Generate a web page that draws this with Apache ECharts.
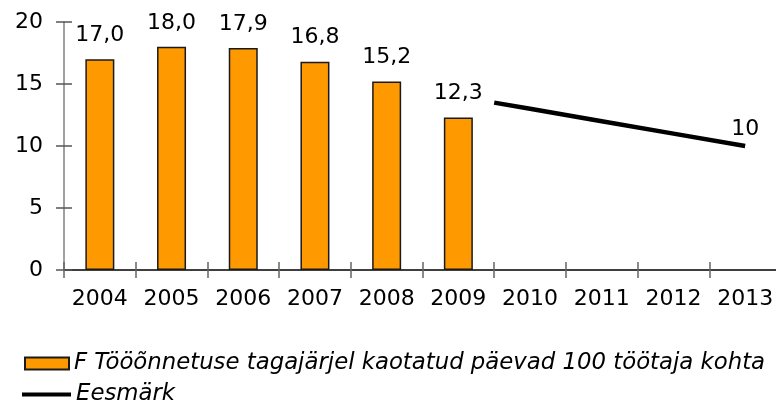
<!DOCTYPE html>
<html>
<head>
<meta charset="utf-8">
<script src="https://cdn.jsdelivr.net/npm/echarts@6/dist/echarts.min.js"></script>
<style>
  html, body { margin: 0; padding: 0; background: #fff; overflow: hidden; }
  #main { width: 781px; height: 403px; }
</style>
</head>
<body>
<div id="main"></div>
<script>
let years = ['2004', '2005', '2006', '2007', '2008', '2009', '2010', '2011', '2012', '2013'];
let barValues = [17.0, 18.0, 17.9, 16.8, 15.2, 12.3];
let lineYears = [2009.5, 2010, 2011, 2012, 2013];
let lineValues = [13.5, 13.0, 12.0, 11.0, 10.0];
let barName = 'F Tööõnnetuse tagajärjel kaotatud päevad 100 töötaja kohta';
let lineName = 'Eesmärk';

let myChart = echarts.init(document.getElementById('main'));

let font = 'DejaVu Sans';
let legendText = {
    fontFamily: font,
    fontSize: 22.8,
    fontStyle: 'italic',
    color: '#000'
};

let option = {
    animation: false,
    grid: {
        left: 64,
        top: 22,
        right: 0,
        height: 248
    },
    legend: [
        {
            left: 24,
            top: 352,
            padding: 0,
            itemWidth: 44,
            itemHeight: 12,
            data: [{ name: barName, icon: 'rect' }],
            textStyle: legendText
        },
        {
            left: 22,
            top: 383,
            padding: 0,
            itemWidth: 49,
            itemHeight: 4,
            data: [{ name: lineName, icon: 'rect' }],
            textStyle: legendText
        }
    ],
    xAxis: [
        {
            type: 'category',
            data: years,
            axisLine: { lineStyle: { color: '#000', width: 1.5 } },
            axisTick: { show: true, interval: 0, length: 8, lineStyle: { color: '#666', width: 1.5 } },
            axisLabel: { interval: 0, fontFamily: font, fontSize: 22, color: '#000', margin: 18 }
        },
        {
            type: 'category',
            data: years,
            position: 'bottom',
            axisLine: { show: false },
            axisTick: { show: true, interval: 0, inside: true, length: 8, lineStyle: { color: '#666', width: 1.5 } },
            axisLabel: { show: false }
        },
        {
            type: 'value',
            min: 2003.5,
            max: 2013.5,
            show: false
        }
    ],
    yAxis: [
        {
            type: 'value',
            min: 0,
            max: 20,
            interval: 5,
            axisLine: { show: true, lineStyle: { color: '#808080', width: 1.5 } },
            axisTick: { show: true, length: 8, lineStyle: { color: '#555', width: 1.5 } },
            splitLine: { show: false },
            axisLabel: { fontFamily: font, fontSize: 22, color: '#000', margin: 21 }
        },
        {
            type: 'value',
            min: 0,
            max: 20,
            interval: 5,
            position: 'left',
            axisLine: { show: false },
            axisTick: { show: true, inside: true, length: 8, lineStyle: { color: '#555', width: 1.5 } },
            splitLine: { show: false },
            axisLabel: { show: false }
        }
    ],
    series: [
        {
            name: barName,
            type: 'bar',
            xAxisIndex: 0,
            yAxisIndex: 0,
            barWidth: 29,
            data: barValues,
            itemStyle: {
                color: '#FF9900',
                borderColor: '#1a1a1a',
                borderWidth: 1.5
            },
            label: {
                show: true,
                position: 'top',
                distance: 13,
                fontFamily: font,
                fontSize: 22,
                color: '#000',
                formatter: function (p) {
                    return p.value.toFixed(1).replace('.', ',');
                }
            }
        },
        {
            name: lineName,
            type: 'line',
            xAxisIndex: 2,
            yAxisIndex: 0,
            symbol: 'circle',
            symbolSize: 0.1,
            showSymbol: true,
            data: lineYears.map(function (y, i) { return [y, lineValues[i]]; }),
            lineStyle: { color: '#000', width: 4.5 },
            itemStyle: { color: '#000' },
            label: {
                show: true,
                position: 'top',
                distance: 6,
                fontFamily: font,
                fontSize: 22,
                color: '#000',
                formatter: function (p) {
                    return p.dataIndex === lineValues.length - 1 ? String(p.value[1]) : '';
                }
            }
        }
    ]
};

myChart.setOption(option);
</script>
</body>
</html>
